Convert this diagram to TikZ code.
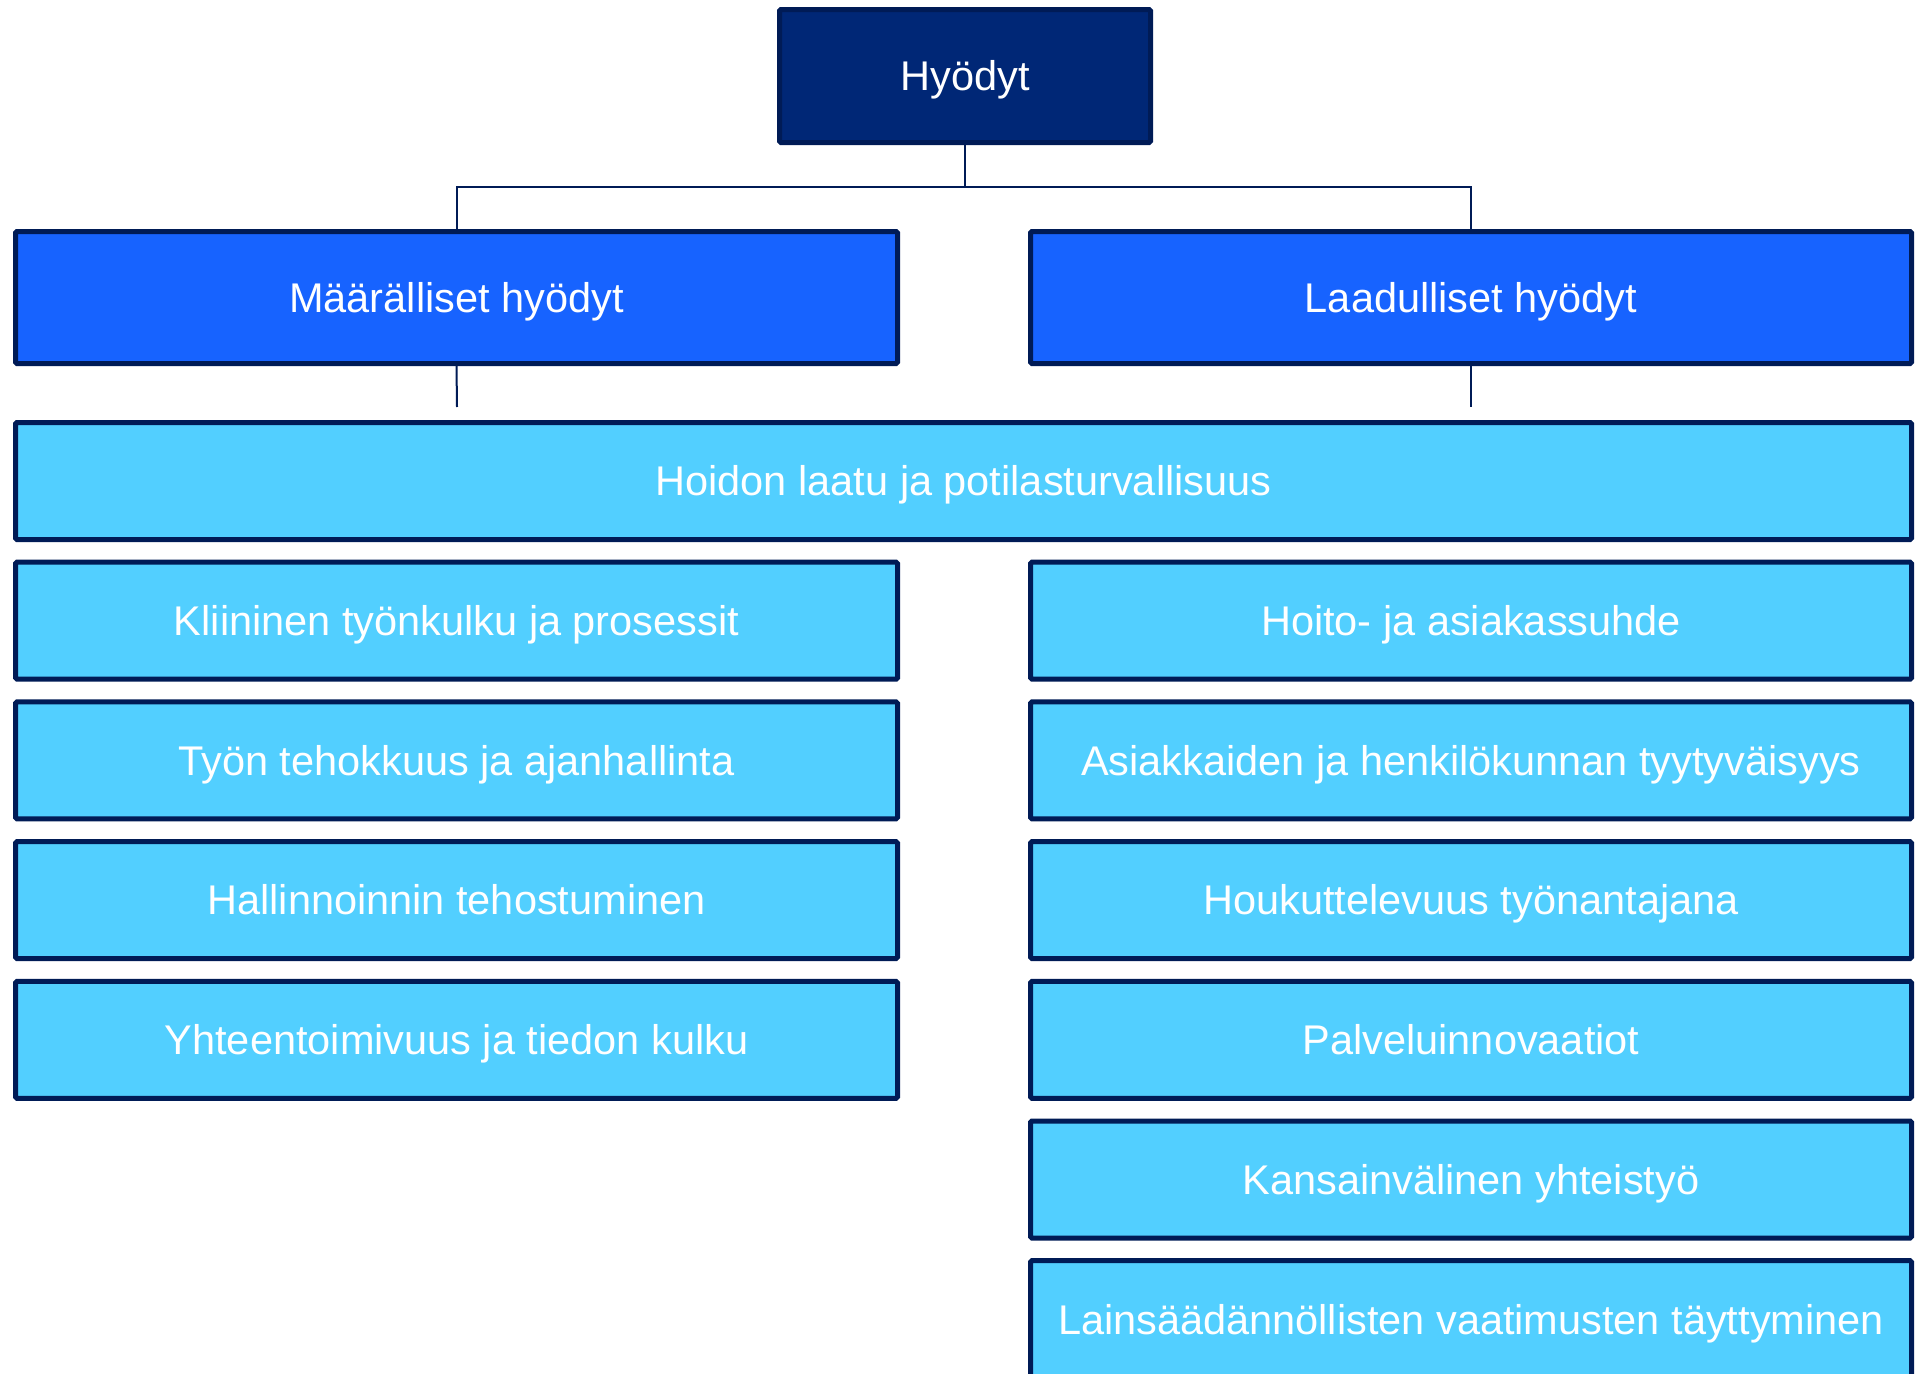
\documentclass[tikz,border=0pt]{standalone}
\usepackage{fontspec}
\setmainfont{Liberation Sans}
\definecolor{navy}{HTML}{002776}
\definecolor{edge}{HTML}{001B56}
\definecolor{midblue}{HTML}{1763FF}
\definecolor{lightblue}{HTML}{52CFFF}
\tikzset{
  box/.style={draw=edge, line width=5pt, rounded corners=1.5pt, inner sep=0pt,
    text=white, font=\fontsize{41.5}{50}\selectfont, text height=29.7pt, text depth=0pt},
  topbox/.style={box, fill=navy},
  midbox/.style={box, fill=midblue},
  itembox/.style={box, fill=lightblue},
  conn/.style={draw=edge, line width=2pt}
}
\begin{document}
\begin{tikzpicture}[x=1pt,y=-1pt]
\useasboundingbox (0,0) rectangle (1921,1373);
\clip (0,0) rectangle (1921,1373);
% top
\node[topbox, minimum width=371pt, minimum height=133pt] (top) at (965,76) {Hyödyt};
% level 2
\node[midbox, minimum width=882pt, minimum height=132pt] (maar) at (456.5,297.5) {Määrälliset hyödyt};
\node[midbox, minimum width=881pt, minimum height=132pt] (laad) at (1471,297.5) {Laadulliset hyödyt};
% level 3
\node[itembox, minimum width=1896pt, minimum height=117pt] (hoidon) at (963.5,481) {Hoidon laatu ja potilasturvallisuus};
% left column
\node[itembox, minimum width=882pt, minimum height=117pt] (l1) at (456.5,620.7) {Kliininen työnkulku ja prosessit};
\node[itembox, minimum width=882pt, minimum height=117pt] (l2) at (456.5,760.4) {Työn tehokkuus ja ajanhallinta};
\node[itembox, minimum width=882pt, minimum height=117pt] (l3) at (456.5,900.1) {Hallinnoinnin tehostuminen};
\node[itembox, minimum width=882pt, minimum height=117pt] (l4) at (456.5,1039.8) {Yhteentoimivuus ja tiedon kulku};
% right column
\node[itembox, minimum width=881pt, minimum height=117pt] (r1) at (1471,620.7) {Hoito- ja asiakassuhde};
\node[itembox, minimum width=881pt, minimum height=117pt] (r2) at (1471,760.4) {Asiakkaiden ja henkilökunnan tyytyväisyys};
\node[itembox, minimum width=881pt, minimum height=117pt] (r3) at (1471,900.1) {Houkuttelevuus työnantajana};
\node[itembox, minimum width=881pt, minimum height=117pt] (r4) at (1471,1039.8) {Palveluinnovaatiot};
\node[itembox, minimum width=881pt, minimum height=117pt] (r5) at (1471,1179.5) {Kansainvälinen yhteistyö};
\node[itembox, minimum width=881pt, minimum height=117pt] (r6) at (1471,1319.2) {Lainsäädännöllisten vaatimusten täyttyminen};
% connectors
\coordinate (maarend) at (457,407);
\coordinate (laadend) at (1471,407);
\draw[conn] (top.south) -- ++(0,42) -| (maar.north);
\draw[conn] (top.south) -- ++(0,42) -| (laad.north);
\draw[conn] (maar.south) -- (maarend);
\draw[conn] (laad.south) -- (laadend);
\end{tikzpicture}
\end{document}
